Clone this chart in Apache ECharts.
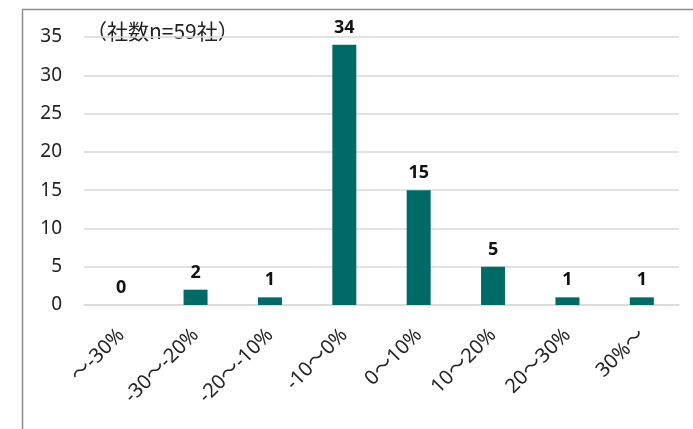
<!DOCTYPE html>
<html>
<head>
<meta charset="utf-8">
<script src="https://cdn.jsdelivr.net/npm/echarts@6/dist/echarts.min.js"></script>
<style>
  html, body { margin: 0; padding: 0; background: #fff; }
  #chart { width: 693px; height: 429px; }
</style>
</head>
<body>
<div id="chart"></div>
<script>
var categories = ['～-30%', '-30～-20%', '-20～-10%', '-10～0%', '0～10%', '10～20%', '20～30%', '30%～'];
var counts = [0, 2, 1, 34, 15, 5, 1, 1];
var yTicks = [0, 5, 10, 15, 20, 25, 30, 35];
var noteText = '（社数n=59社）';

var myChart = echarts.init(document.getElementById('chart'));
var option = {
	animation: false,
	backgroundColor: '#fff',
	grid: { left: 84, right: 14, top: 37, bottom: 124 },
	graphic: [
		{
			type: 'rect', left: 20, top: 7,
			shape: { width: 700, height: 440 },
			style: { fill: 'none', stroke: '#8c8c8c', lineWidth: 1.5 },
			silent: true
		},
		{
			type: 'text', left: 86, top: 21,
			style: { text: noteText, fontSize: 21, fill: '#222', fontFamily: '"Noto Sans CJK JP"' }
		}
	],
	xAxis: {
		type: 'category',
		data: categories,
		axisTick: { show: false },
		axisLine: { lineStyle: { color: '#d9d9d9', width: 1.5 } },
		axisLabel: {
			rotate: 45, color: '#222', fontSize: 20, margin: 27,
			fontFamily: '"Noto Sans", "Noto Sans CJK JP"'
		}
	},
	yAxis: {
		type: 'value',
		min: yTicks[0], max: yTicks[yTicks.length - 1], interval: 5,
		axisLabel: { color: '#222', fontSize: 19, margin: 22, fontFamily: '"Noto Sans"' },
		splitLine: { lineStyle: { color: '#d9d9d9', width: 1.5 } },
		axisLine: { show: false },
		axisTick: { show: false }
	},
	series: [{
		type: 'bar',
		data: counts,
		barWidth: 24,
		itemStyle: { color: '#006B66' },
		label: {
			show: true, position: 'top', distance: 8,
			fontSize: 18, fontWeight: 'bold', color: '#111',
			fontFamily: '"Noto Sans"'
		}
	}]
};
myChart.setOption(option);
</script>
</body>
</html>
